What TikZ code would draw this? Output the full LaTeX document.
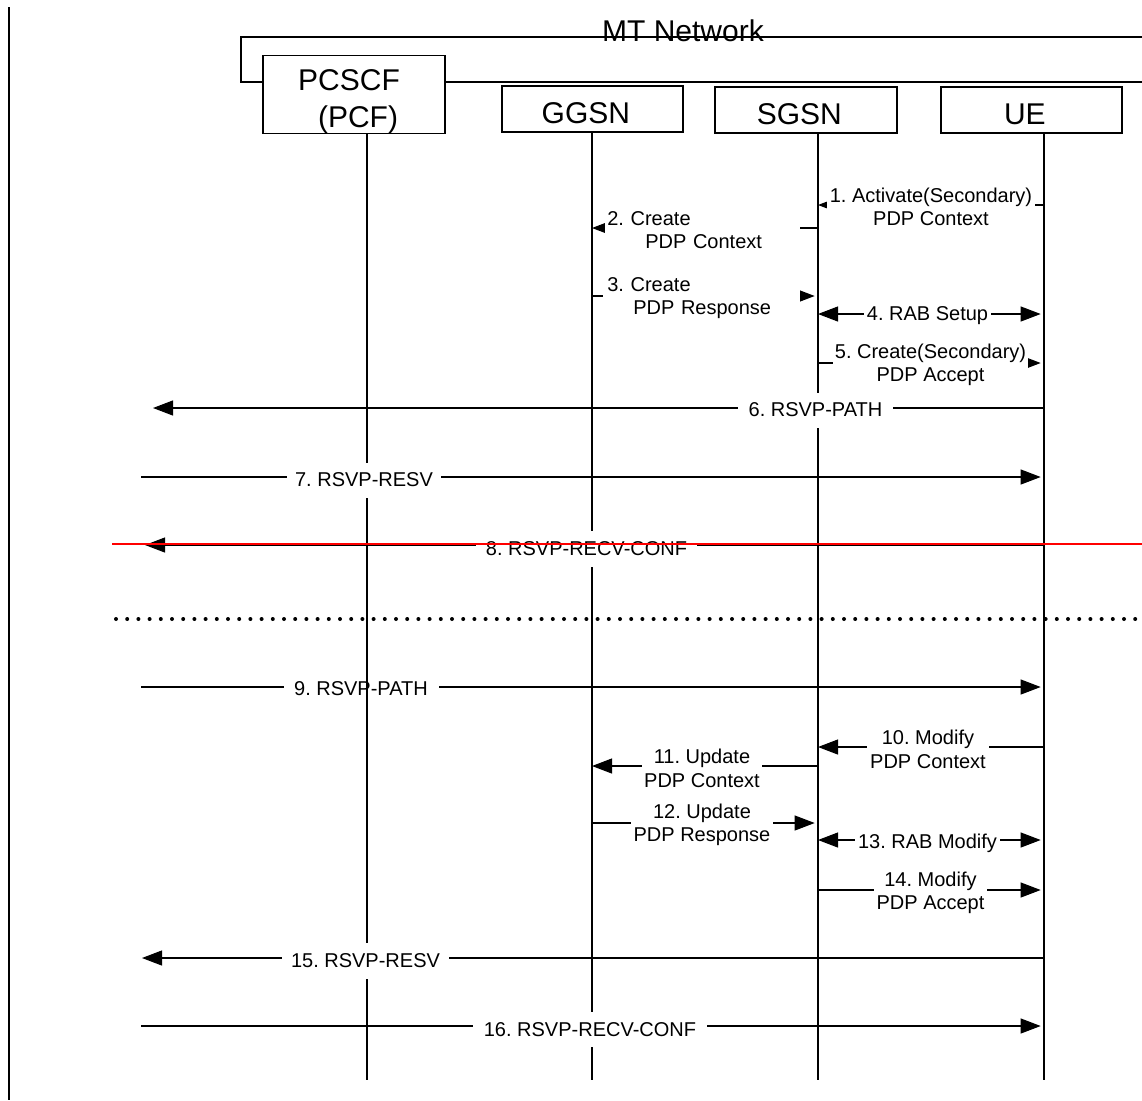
\documentclass[tikz,border=0pt]{standalone}
\usepackage{fontspec}
\setmainfont{Liberation Sans}
\usetikzlibrary{arrows.meta}
\frenchspacing
\begin{document}
\frenchspacing
\begin{tikzpicture}[x=0.75pt,y=-0.75pt,
  boxnode/.style={draw,line width=1.1pt,fill=white,inner sep=0pt,align=center,font=\fontsize{22.5}{27.75}\selectfont},
  life/.style={line width=1.1pt},
  msg/.style={line width=0.8pt,-{Triangle[length=15pt,width=11.25pt]}},
  dmsg/.style={line width=0.8pt,{Triangle[length=15pt,width=11.25pt]}-{Triangle[length=15pt,width=11.25pt]}},
  toR/.style={shorten >=2.5pt},
  lbl/.style={fill=white,inner sep=0pt,align=center,font=\fontsize{15}{17.6}\selectfont,minimum height=26.25pt},
]
\useasboundingbox (0,0) rectangle (1142,1100);
\fill[white] (0,0) rectangle (1142,1100);

% left border
\coordinate (bT) at (9,7);
\coordinate (bB) at (9,1100);
\draw[line width=1.5pt] (bT) -- (bB);

% MT network frame
\node[inner sep=0pt,font=\fontsize{22.5}{27}\selectfont] (mt) at (683,31) {MT Network};
\coordinate (fA) at (1142,82);
\coordinate (fB) at (241,82);
\coordinate (fC) at (241,37);
\coordinate (fD) at (1142,37);
\draw[line width=1.1pt] (fA) -- (fB) -- (fC) -- (fD);

% entity boxes
\node[boxnode,minimum width=136.5pt,minimum height=57.75pt] (pcscf) at (354,94.5) {\rule{0pt}{26pt}PCSCF\hspace*{7.5pt}\\\hspace*{6pt}(PCF)};
\node[boxnode,minimum width=135.75pt,minimum height=34.5pt] (ggsn) at (592.5,109) {\rule{0pt}{22.1pt}GGSN\hspace*{10pt}};
\node[boxnode,minimum width=136.5pt,minimum height=34.5pt] (sgsn) at (806,110) {\rule{0pt}{22.1pt}SGSN\hspace*{10pt}};
\node[boxnode,minimum width=135.75pt,minimum height=34.5pt] (ue) at (1031.5,110) {\rule{0pt}{22.1pt}UE\hspace*{10pt}};

% lifeline ends
\coordinate (pB) at (367,1080);
\coordinate (gB) at (592,1080);
\coordinate (sB) at (818,1080);
\coordinate (uB) at (1044,1080);

% message 9 (below the lifelines)
\coordinate (e9) at (141,687);
\draw[msg,toR] (e9) -- (uB |- e9);
\node[lbl,minimum width=116.25pt] (l9) at (361,689) {9. RSVP-PATH};

% lifelines
\draw[life] (pcscf.south -| pB) -- (pB);
\draw[life] (ggsn.south -| gB) -- (gB);
\draw[life] (sgsn.south -| sB) -- (sB);
\draw[life] (ue.south -| uB) -- (uB);

% 1
\coordinate (r1) at (0,205);
\draw[msg] (uB |- r1) -- (sB |- r1);
\node[lbl,minimum width=156pt] (l1) at (931,207) {1. Activate(Secondary)\\PDP Context};
% 2
\coordinate (r2) at (0,228);
\draw[msg] (sB |- r2) -- (gB |- r2);
\node[lbl,anchor=west,align=left,text width=143.25pt,inner xsep=1.5pt] (l2) at (605,230) {2. Create\\\hspace*{28.5pt}PDP Context};
% 3
\coordinate (r3) at (0,296);
\draw[msg,toR] (gB |- r3) -- (sB |- r3);
\node[lbl,anchor=west,align=left,text width=144.75pt,inner xsep=1.5pt] (l3) at (603,298) {\hspace*{1.5pt}3. Create\\\hspace*{21pt}PDP Response};
% 4
\coordinate (r4) at (0,314);
\draw[dmsg,toR] (sB |- r4) -- (uB |- r4);
\node[lbl,minimum width=95.25pt] (l4) at (927.5,316) {4. RAB Setup};
% 5
\coordinate (r5) at (0,363);
\draw[msg,toR] (sB |- r5) -- (uB |- r5);
\node[lbl,minimum width=146.25pt] (l5) at (930.5,365) {5. Create(Secondary)\\PDP Accept};
% 6
\coordinate (e6) at (153,408);
\draw[msg] (uB |- e6) -- (e6);
\node[lbl,minimum width=116.25pt] (l6) at (815.5,410) {6. RSVP-PATH};
% 7
\coordinate (e7) at (141,477);
\draw[msg,toR] (e7) -- (uB |- e7);
\node[lbl,minimum width=115.5pt] (l7) at (364,480) {7. RSVP-RESV};
% 8
\coordinate (e8) at (145,545);
\draw[msg] (uB |- e8) -- (e8);
\node[lbl,minimum width=165.75pt,minimum height=27pt] (l8) at (586.5,549) {8. RSVP-RECV-CONF};

% dotted separator
\coordinate (d1) at (116,619);
\coordinate (d2) at (1142,619);
\draw[line width=3pt,line cap=round,dash pattern=on 0pt off 8.4pt] (d1) -- (d2);

% 10
\coordinate (r10) at (0,747);
\draw[msg] (uB |- r10) -- (sB |- r10);
\node[lbl,minimum width=91.5pt] (l10) at (928,749.5) {10. Modify\\PDP Context};
% 11
\coordinate (r11) at (0,766);
\draw[msg] (sB |- r11) -- (gB |- r11);
\node[lbl,minimum width=90pt] (l11) at (702,768.5) {11. Update\\PDP Context};
% 12
\coordinate (r12) at (0,823);
\draw[msg,toR] (gB |- r12) -- (sB |- r12);
\node[lbl,minimum width=106.5pt] (l12) at (702,825) {12. Update\\PDP Response};
% 13
\coordinate (r13) at (0,840);
\draw[dmsg,toR] (sB |- r13) -- (uB |- r13);
\node[lbl,minimum width=108.75pt] (l13) at (927.5,843) {13. RAB Modify};
% 14
\coordinate (r14) at (0,890);
\draw[msg,toR] (sB |- r14) -- (uB |- r14);
\node[lbl,minimum width=84.75pt] (l14) at (930.5,893) {14. Modify\\PDP Accept};
% 15
\coordinate (e15) at (142,958);
\draw[msg] (uB |- e15) -- (e15);
\node[lbl,minimum width=125.25pt,minimum height=27pt] (l15) at (365.5,961) {15. RSVP-RESV};
% 16
\coordinate (e16) at (141,1026);
\draw[msg,toR] (e16) -- (uB |- e16);
\node[lbl,minimum width=175.5pt] (l16) at (590,1029.5) {16. RSVP-RECV-CONF};

% red strike line
\coordinate (x1) at (112,544);
\coordinate (x2) at (1142,544);
\draw[red,line width=1.5pt] (x1) -- (x2);
\end{tikzpicture}
\end{document}
